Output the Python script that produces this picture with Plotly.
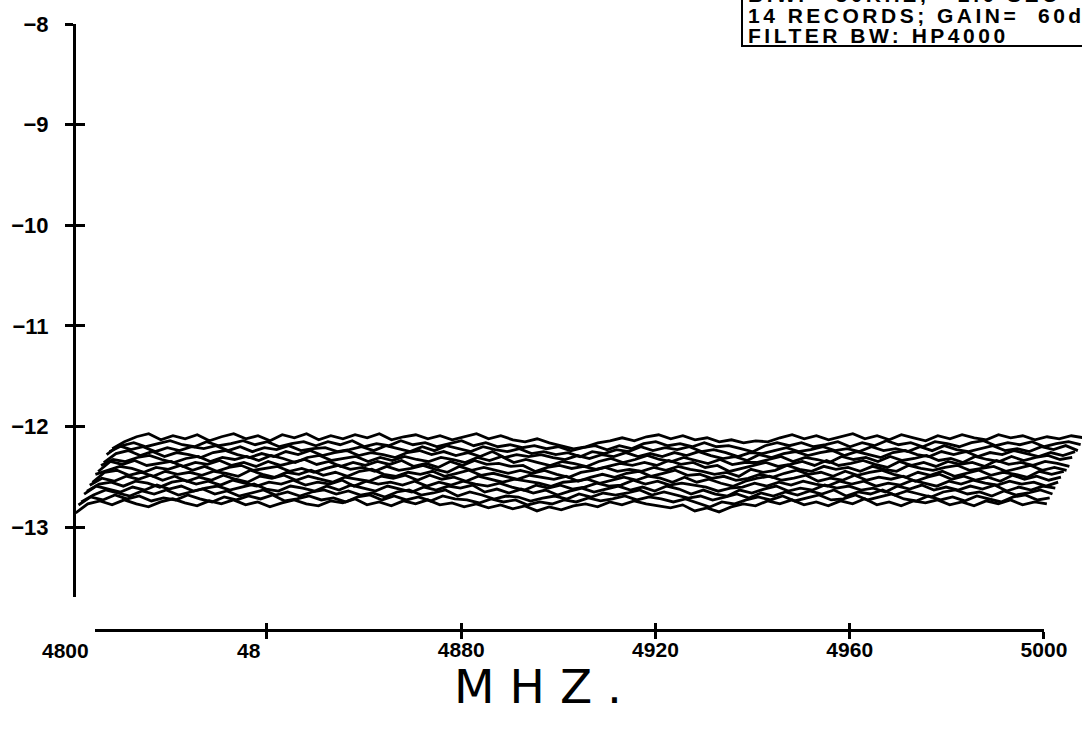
import plotly.graph_objects as go

# ---------------- data ----------------
FREQ_MHZ = [4800.0, 4802.5, 4805.0, 4807.5, 4810.0, 4812.5, 4815.0, 4817.5, 4820.0,
            4822.5, 4825.0, 4827.5, 4830.0, 4832.5, 4835.0, 4837.5, 4840.0, 4842.5,
            4845.0, 4847.5, 4850.0, 4852.5, 4855.0, 4857.5, 4860.0, 4862.5, 4865.0,
            4867.5, 4870.0, 4872.5, 4875.0, 4877.5, 4880.0, 4882.5, 4885.0, 4887.5,
            4890.0, 4892.5, 4895.0, 4897.5, 4900.0, 4902.5, 4905.0, 4907.5, 4910.0,
            4912.5, 4915.0, 4917.5, 4920.0, 4922.5, 4925.0, 4927.5, 4930.0, 4932.5,
            4935.0, 4937.5, 4940.0, 4942.5, 4945.0, 4947.5, 4950.0, 4952.5, 4955.0,
            4957.5, 4960.0, 4962.5, 4965.0, 4967.5, 4970.0, 4972.5, 4975.0, 4977.5,
            4980.0, 4982.5, 4985.0, 4987.5, 4990.0, 4992.5, 4995.0, 4997.5, 5000.0]

RECORD_01 = [-12.86, -12.77, -12.74, -12.78, -12.73, -12.77, -12.80, -12.75, -12.72,
             -12.76, -12.79, -12.74, -12.77, -12.73, -12.78, -12.75, -12.80, -12.76,
             -12.73, -12.77, -12.79, -12.74, -12.76, -12.72, -12.78, -12.75, -12.79,
             -12.74, -12.77, -12.73, -12.78, -12.76, -12.80, -12.77, -12.81, -12.78,
             -12.82, -12.79, -12.84, -12.80, -12.83, -12.79, -12.77, -12.80, -12.75,
             -12.78, -12.74, -12.77, -12.79, -12.81, -12.78, -12.84, -12.81, -12.85,
             -12.80, -12.77, -12.79, -12.74, -12.77, -12.73, -12.78, -12.75, -12.79,
             -12.74, -12.77, -12.72, -12.78, -12.75, -12.79, -12.74, -12.76, -12.73,
             -12.78, -12.75, -12.79, -12.74, -12.77, -12.73, -12.78, -12.75, -12.77]
RECORD_02 = [-12.83, -12.75, -12.78, -12.73, -12.77, -12.74, -12.79, -12.76, -12.78,
             -12.73, -12.77, -12.80, -12.75, -12.78, -12.74, -12.77, -12.73, -12.79,
             -12.77, -12.74, -12.78, -12.76, -12.80, -12.75, -12.73, -12.78, -12.74,
             -12.78, -12.75, -12.79, -12.74, -12.77, -12.78, -12.81, -12.77, -12.80,
             -12.78, -12.83, -12.80, -12.82, -12.78, -12.80, -12.76, -12.79, -12.77,
             -12.74, -12.78, -12.75, -12.77, -12.80, -12.77, -12.81, -12.85, -12.80,
             -12.82, -12.78, -12.75, -12.78, -12.74, -12.79, -12.76, -12.73, -12.78,
             -12.77, -12.73, -12.78, -12.75, -12.72, -12.77, -12.79, -12.74, -12.78,
             -12.75, -12.79, -12.74, -12.77, -12.80, -12.75, -12.73, -12.78, -12.76]
RECORD_03 = [-12.85, -12.78, -12.73, -12.76, -12.79, -12.74, -12.77, -12.73, -12.78,
             -12.75, -12.72, -12.77, -12.74, -12.79, -12.76, -12.73, -12.78, -12.75,
             -12.79, -12.75, -12.73, -12.77, -12.74, -12.78, -12.76, -12.80, -12.75,
             -12.73, -12.78, -12.76, -12.73, -12.79, -12.75, -12.78, -12.82, -12.79,
             -12.80, -12.84, -12.81, -12.79, -12.82, -12.77, -12.80, -12.76, -12.78,
             -12.76, -12.73, -12.78, -12.75, -12.78, -12.81, -12.79, -12.83, -12.80,
             -12.77, -12.81, -12.76, -12.79, -12.75, -12.78, -12.74, -12.77, -12.73,
             -12.79, -12.75, -12.77, -12.73, -12.78, -12.74, -12.77, -12.80, -12.75,
             -12.73, -12.77, -12.75, -12.79, -12.74, -12.78, -12.76, -12.73, -12.77]
RECORD_04 = [-12.82, -12.74, -12.77, -12.80, -12.75, -12.78, -12.73, -12.77, -12.74,
             -12.79, -12.76, -12.74, -12.78, -12.75, -12.72, -12.77, -12.79, -12.74,
             -12.76, -12.79, -12.74, -12.78, -12.73, -12.76, -12.79, -12.74, -12.77,
             -12.80, -12.75, -12.78, -12.74, -12.76, -12.73, -12.80, -12.77, -12.81,
             -12.77, -12.81, -12.78, -12.83, -12.79, -12.76, -12.80, -12.77, -12.74,
             -12.78, -12.75, -12.79, -12.74, -12.77, -12.82, -12.78, -12.82, -12.84,
             -12.78, -12.81, -12.77, -12.74, -12.79, -12.76, -12.78, -12.73, -12.76,
             -12.74, -12.78, -12.76, -12.80, -12.74, -12.77, -12.73, -12.78, -12.75,
             -12.78, -12.74, -12.77, -12.73, -12.79, -12.75, -12.78, -12.74, -12.76]
RECORD_05 = [-12.84, -12.77, -12.75, -12.79, -12.74, -12.76, -12.80, -12.75, -12.73,
             -12.77, -12.74, -12.78, -12.73, -12.76, -12.79, -12.75, -12.77, -12.73,
             -12.78, -12.75, -12.77, -12.73, -12.79, -12.74, -12.77, -12.75, -12.78,
             -12.74, -12.79, -12.75, -12.78, -12.74, -12.77, -12.79, -12.76, -12.80,
             -12.83, -12.78, -12.81, -12.78, -12.82, -12.80, -12.76, -12.79, -12.78,
             -12.73, -12.77, -12.74, -12.78, -12.76, -12.78, -12.80, -12.84, -12.81,
             -12.80, -12.76, -12.79, -12.75, -12.78, -12.74, -12.77, -12.79, -12.74,
             -12.77, -12.74, -12.79, -12.76, -12.78, -12.73, -12.76, -12.79, -12.74,
             -12.77, -12.73, -12.76, -12.78, -12.74, -12.77, -12.75, -12.79, -12.75]
RECORD_06 = [-12.83, -12.76, -12.79, -12.74, -12.77, -12.73, -12.78, -12.74, -12.79,
             -12.75, -12.78, -12.73, -12.77, -12.80, -12.74, -12.76, -12.73, -12.78,
             -12.74, -12.77, -12.80, -12.75, -12.77, -12.79, -12.74, -12.76, -12.73,
             -12.78, -12.73, -12.77, -12.75, -12.79, -12.74, -12.77, -12.80, -12.77,
             -12.79, -12.81, -12.84, -12.80, -12.79, -12.77, -12.81, -12.78, -12.75,
             -12.78, -12.74, -12.76, -12.80, -12.75, -12.80, -12.77, -12.81, -12.84,
             -12.79, -12.76, -12.74, -12.78, -12.76, -12.73, -12.79, -12.76, -12.78,
             -12.73, -12.78, -12.75, -12.77, -12.74, -12.79, -12.75, -12.72, -12.77,
             -12.74, -12.78, -12.75, -12.79, -12.73, -12.77, -12.74, -12.78, -12.75]
RECORD_07 = [-12.85, -12.75, -12.73, -12.78, -12.75, -12.79, -12.74, -12.77, -12.75,
             -12.78, -12.74, -12.76, -12.79, -12.73, -12.77, -12.80, -12.75, -12.77,
             -12.73, -12.78, -12.75, -12.79, -12.74, -12.72, -12.77, -12.79, -12.75,
             -12.77, -12.74, -12.79, -12.76, -12.73, -12.78, -12.76, -12.79, -12.82,
             -12.78, -12.80, -12.82, -12.79, -12.84, -12.80, -12.77, -12.80, -12.76,
             -12.74, -12.79, -12.76, -12.73, -12.78, -12.77, -12.81, -12.79, -12.83,
             -12.81, -12.77, -12.80, -12.76, -12.73, -12.77, -12.75, -12.79, -12.74,
             -12.78, -12.75, -12.73, -12.77, -12.80, -12.75, -12.78, -12.74, -12.79,
             -12.76, -12.73, -12.78, -12.75, -12.77, -12.80, -12.74, -12.77, -12.74]
RECORD_08 = [-12.82, -12.78, -12.74, -12.76, -12.80, -12.75, -12.77, -12.73, -12.78,
             -12.74, -12.79, -12.75, -12.73, -12.78, -12.76, -12.74, -12.79, -12.76,
             -12.80, -12.76, -12.73, -12.77, -12.75, -12.79, -12.74, -12.78, -12.76,
             -12.73, -12.77, -12.80, -12.74, -12.78, -12.75, -12.78, -12.81, -12.78,
             -12.81, -12.78, -12.82, -12.85, -12.80, -12.78, -12.75, -12.79, -12.77,
             -12.79, -12.75, -12.78, -12.74, -12.77, -12.79, -12.82, -12.80, -12.84,
             -12.77, -12.80, -12.78, -12.73, -12.77, -12.79, -12.74, -12.77, -12.75,
             -12.79, -12.74, -12.77, -12.79, -12.73, -12.76, -12.78, -12.75, -12.73,
             -12.78, -12.76, -12.74, -12.79, -12.76, -12.73, -12.78, -12.75, -12.78]
RECORD_09 = [-12.84, -12.74, -12.77, -12.73, -12.78, -12.76, -12.74, -12.79, -12.75,
             -12.77, -12.73, -12.78, -12.75, -12.79, -12.74, -12.78, -12.75, -12.72,
             -12.77, -12.74, -12.79, -12.75, -12.78, -12.74, -12.77, -12.73, -12.79,
             -12.76, -12.80, -12.74, -12.78, -12.73, -12.77, -12.76, -12.79, -12.78,
             -12.84, -12.80, -12.78, -12.81, -12.79, -12.82, -12.79, -12.76, -12.78,
             -12.75, -12.78, -12.73, -12.77, -12.75, -12.80, -12.78, -12.84, -12.81,
             -12.78, -12.75, -12.79, -12.77, -12.74, -12.78, -12.73, -12.78, -12.76,
             -12.73, -12.77, -12.80, -12.74, -12.78, -12.75, -12.79, -12.74, -12.77,
             -12.75, -12.79, -12.73, -12.77, -12.75, -12.78, -12.74, -12.76, -12.79]
RECORD_10 = [-12.83, -12.77, -12.79, -12.75, -12.73, -12.77, -12.80, -12.76, -12.74,
             -12.79, -12.75, -12.77, -12.74, -12.78, -12.73, -12.76, -12.80, -12.75,
             -12.73, -12.78, -12.76, -12.74, -12.79, -12.75, -12.78, -12.74, -12.77,
             -12.79, -12.75, -12.77, -12.80, -12.75, -12.78, -12.74, -12.80, -12.77,
             -12.80, -12.83, -12.79, -12.81, -12.84, -12.79, -12.76, -12.80, -12.77,
             -12.73, -12.77, -12.79, -12.75, -12.78, -12.81, -12.77, -12.82, -12.80,
             -12.80, -12.77, -12.74, -12.79, -12.75, -12.77, -12.80, -12.74, -12.77,
             -12.75, -12.79, -12.74, -12.78, -12.76, -12.73, -12.78, -12.76, -12.80,
             -12.74, -12.77, -12.79, -12.74, -12.78, -12.75, -12.73, -12.77, -12.75]
RECORD_11 = [-12.85, -12.76, -12.73, -12.78, -12.74, -12.79, -12.75, -12.77, -12.80,
             -12.75, -12.73, -12.77, -12.80, -12.76, -12.79, -12.74, -12.77, -12.73,
             -12.78, -12.75, -12.73, -12.78, -12.75, -12.77, -12.80, -12.75, -12.73,
             -12.77, -12.74, -12.78, -12.75, -12.79, -12.74, -12.80, -12.77, -12.79,
             -12.77, -12.80, -12.82, -12.78, -12.81, -12.77, -12.79, -12.75, -12.79,
             -12.76, -12.79, -12.75, -12.78, -12.74, -12.78, -12.81, -12.79, -12.83,
             -12.77, -12.80, -12.76, -12.74, -12.78, -12.75, -12.73, -12.78, -12.74,
             -12.77, -12.80, -12.75, -12.73, -12.77, -12.79, -12.74, -12.77, -12.74,
             -12.79, -12.75, -12.77, -12.73, -12.76, -12.79, -12.75, -12.78, -12.74]
RECORD_12 = [-12.82, -12.73, -12.77, -12.74, -12.79, -12.75, -12.78, -12.74, -12.76,
             -12.73, -12.78, -12.74, -12.79, -12.75, -12.77, -12.73, -12.78, -12.76,
             -12.75, -12.79, -12.77, -12.74, -12.78, -12.73, -12.76, -12.79, -12.74,
             -12.78, -12.73, -12.76, -12.79, -12.74, -12.77, -12.79, -12.76, -12.81,
             -12.79, -12.82, -12.80, -12.84, -12.79, -12.81, -12.77, -12.79, -12.74,
             -12.78, -12.75, -12.77, -12.74, -12.79, -12.77, -12.80, -12.84, -12.80,
             -12.81, -12.78, -12.75, -12.79, -12.77, -12.74, -12.78, -12.76, -12.79,
             -12.74, -12.78, -12.76, -12.79, -12.74, -12.78, -12.73, -12.77, -12.79,
             -12.76, -12.73, -12.78, -12.76, -12.79, -12.74, -12.77, -12.73, -12.78]
RECORD_13 = [-12.84, -12.78, -12.75, -12.79, -12.76, -12.73, -12.77, -12.79, -12.74,
             -12.78, -12.76, -12.73, -12.77, -12.74, -12.79, -12.76, -12.74, -12.78,
             -12.74, -12.77, -12.73, -12.79, -12.76, -12.78, -12.73, -12.77, -12.75,
             -12.79, -12.76, -12.73, -12.78, -12.75, -12.79, -12.77, -12.80, -12.78,
             -12.81, -12.79, -12.83, -12.80, -12.78, -12.82, -12.78, -12.81, -12.76,
             -12.74, -12.78, -12.76, -12.79, -12.75, -12.79, -12.78, -12.81, -12.84,
             -12.78, -12.75, -12.78, -12.75, -12.79, -12.77, -12.74, -12.79, -12.75,
             -12.78, -12.73, -12.77, -12.75, -12.79, -12.74, -12.76, -12.79, -12.75,
             -12.73, -12.78, -12.75, -12.77, -12.74, -12.79, -12.76, -12.74, -12.77]
RECORD_14 = [-12.86, -12.79, -12.74, -12.71, -12.77, -12.73, -12.76, -12.72, -12.78,
             -12.74, -12.71, -12.76, -12.73, -12.78, -12.72, -12.75, -12.71, -12.77,
             -12.73, -12.76, -12.72, -12.75, -12.71, -12.77, -12.74, -12.72, -12.76,
             -12.73, -12.77, -12.74, -12.71, -12.76, -12.73, -12.77, -12.79, -12.76,
             -12.80, -12.83, -12.86, -12.84, -12.80, -12.78, -12.75, -12.78, -12.74,
             -12.72, -12.76, -12.73, -12.77, -12.75, -12.79, -12.77, -12.80, -12.78,
             -12.79, -12.75, -12.72, -12.76, -12.73, -12.77, -12.74, -12.71, -12.76,
             -12.73, -12.77, -12.72, -12.75, -12.78, -12.73, -12.76, -12.72, -12.75,
             -12.77, -12.72, -12.75, -12.73, -12.77, -12.74, -12.76, -12.73, -12.75]

RECORDS = [RECORD_01, RECORD_02, RECORD_03, RECORD_04, RECORD_05, RECORD_06, RECORD_07,
           RECORD_08, RECORD_09, RECORD_10, RECORD_11, RECORD_12, RECORD_13, RECORD_14]

Y_TICKS = [-8, -9, -10, -11, -12, -13]
X_TICKS = [4840, 4880, 4920, 4960, 5000]
X_TICK_TEXT = ["", "4880", "4920", "4960", "5000"]

BOX_LINES = ["B.W.\u00a0\u00a0\u00a030KHZ;\u00a0\u00a0\u00a02.0 SEC",
             "14 RECORDS; GAIN=\u00a0\u00a060d",
             "FILTER BW: HP4000"]

# ---------------- layout geometry (pixels) ----------------
W, H = 1082, 734
ML, MR, MT, MB = 76, 0, 24, 105
PW, PH = W - ML - MR, H - MT - MB
PX_PER_MHZ = 4.856
PX_AT_4800 = 72.75
PX_PER_UNIT = 100.6
YAXIS_BOTTOM_PX = 597
XAXIS_PX = 629
XAXIS_LEFT_PX = 95

# waterfall offsets per record (plot positions)
DX0, DX, DY = 0.6, 0.58, 0.049


def mhz_at(px):
    return 4800 + (px - PX_AT_4800) / PX_PER_MHZ


def pax(px):
    return (px - ML) / PW


def pay(py):
    return (H - MB - py) / PH


fig = go.Figure()
for i, rec in enumerate(RECORDS):
    fig.add_trace(go.Scatter(
        x=[f + DX0 + i * DX for f in FREQ_MHZ],
        y=[v + i * DY for v in rec],
        mode="lines", line=dict(color="black", width=2.8),
        xaxis="x", yaxis="y", showlegend=False, hoverinfo="skip"))

# invisible helper traces so every axis (incl. the overlays) gets drawn
for xa, ya, xv, yv in [("x2", "y3", 4900, 0.5), ("x3", "y3", 4900, 0.5),
                       ("x", "y2", 4900, -12.5)]:
    fig.add_trace(go.Scatter(x=[xv], y=[yv], mode="markers", marker=dict(opacity=0),
                             xaxis=xa, yaxis=ya, showlegend=False, hoverinfo="skip"))

ydom0 = pay(YAXIS_BOTTOM_PX)
yrange = [-8 - (YAXIS_BOTTOM_PX - MT) / PX_PER_UNIT, -8]
x2range = [mhz_at(XAXIS_LEFT_PX), 5000.05]
x2dom = [pax(XAXIS_LEFT_PX), pax(PX_AT_4800 + (5000.05 - 4800) * PX_PER_MHZ)]

tickfont = dict(family="Liberation Sans, Arial, sans-serif", size=21, color="black",
                weight="bold")
ytickfont = dict(family="Liberation Sans, Arial, sans-serif", size=22, color="black",
                 weight="bold")

fig.update_layout(
    width=W, height=H,
    margin=dict(l=ML, r=MR, t=MT, b=MB, autoexpand=False),
    paper_bgcolor="white", plot_bgcolor="white",
    showlegend=False,
    xaxis=dict(domain=[0, 1], range=[mhz_at(ML), mhz_at(W)], visible=False,
               anchor="y", automargin=False),
    yaxis=dict(domain=[ydom0, 1], range=yrange, anchor="x", side="left",
               automargin=False,
               showline=True, linecolor="black", linewidth=3,
               showgrid=False, zeroline=False,
               tickmode="array", tickvals=Y_TICKS,
               ticks="outside", ticklen=8, tickwidth=3, tickcolor="black",
               tickfont=ytickfont, ticklabelstandoff=12),
    yaxis2=dict(overlaying="y", range=yrange, anchor="x", side="left",
                automargin=False,
                showgrid=False, zeroline=False, showline=False,
                tickmode="array", tickvals=Y_TICKS, showticklabels=False,
                ticks="inside", ticklen=9, tickwidth=3, tickcolor="black"),
    yaxis3=dict(domain=[0, 0.02], range=[0, 1], visible=False, anchor="x2",
                automargin=False),
    xaxis2=dict(domain=x2dom, range=x2range, anchor="y3", side="bottom",
                automargin=False,
                showline=True, linecolor="black", linewidth=3,
                showgrid=False, zeroline=False,
                tickmode="array", tickvals=X_TICKS, showticklabels=False,
                ticks="outside", ticklen=7, tickwidth=3, tickcolor="black"),
    xaxis3=dict(overlaying="x2", domain=x2dom, range=x2range, anchor="y3",
                side="bottom", automargin=False,
                showgrid=False, zeroline=False, showline=False,
                tickmode="array", tickvals=X_TICKS, ticktext=X_TICK_TEXT,
                ticks="inside", ticklen=6, tickwidth=3, tickcolor="black",
                tickfont=tickfont, ticklabelstandoff=6),
)

# damaged first two frequency labels as printed
fig.add_annotation(text="4800", xref="paper", yref="paper", x=pax(65), y=pay(650),
                   showarrow=False, font=tickfont, xanchor="center", yanchor="middle")
fig.add_annotation(text="48", xref="paper", yref="paper", x=pax(249), y=pay(650),
                   showarrow=False, font=tickfont, xanchor="center", yanchor="middle")

# axis title
fig.add_annotation(text='<span style="letter-spacing:15px">MHZ.</span>',
                   xref="paper", yref="paper", x=pax(545), y=pay(686),
                   showarrow=False, xanchor="center", yanchor="middle",
                   font=dict(family="DejaVu Sans, sans-serif", size=47, color="black"))

# info box
fig.add_shape(type="rect", xref="paper", yref="paper",
              x0=pax(742), x1=pax(W + 20), y0=pay(46), y1=pay(-20),
              line=dict(color="black", width=2), fillcolor="rgba(0,0,0,0)")
boxfont = dict(family="Liberation Sans, Arial, sans-serif", size=21, color="black",
               weight="bold")
for txt, cy in zip(BOX_LINES, [-5, 15, 35]):
    fig.add_annotation(text='<span style="letter-spacing:3.5px">' + txt + '</span>',
                       xref="paper", yref="paper", x=pax(746), y=pay(cy),
                       showarrow=False, xanchor="left", yanchor="middle",
                       font=boxfont)

fig.write_html("out.html")
